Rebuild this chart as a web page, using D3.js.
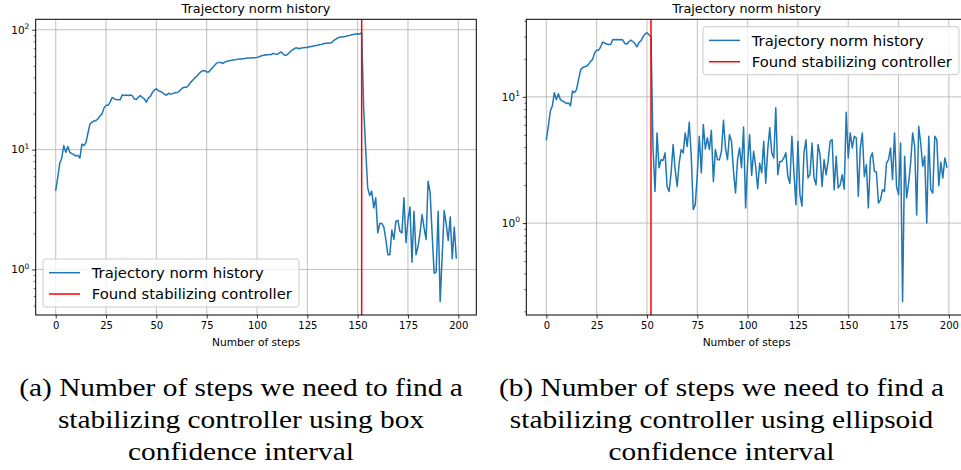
<!DOCTYPE html>
<html><head><meta charset="utf-8">
<script src="https://cdn.jsdelivr.net/npm/d3@7"></script>
<style>body{margin:0;background:#fff} svg{display:block}</style>
</head><body><svg id="chart" width="961" height="470"></svg>
<script>
// ---------------- data ----------------
const boxNorm = [
  4.58, 5.85, 7.7, 8.5, 10.8, 9.5, 10.6, 9.5, 9.25, 9.1,
  8.85, 8.95, 8.5, 11.1, 10.8, 11.4, 13.7, 16.3, 17.0, 17.3,
  17.5, 18.1, 19.1, 19.8, 22.3, 23.4, 23.4, 24.9, 27.2, 26.6,
  26.2, 26.0, 26.0, 28.5, 28.3, 28.5, 28.3, 28.5, 28.2, 26.5,
  26.2, 27.3, 28.2, 27.3, 26.5, 24.9, 26.9, 27.8, 29.9, 31.4,
  32.2, 31.0, 30.6, 29.9, 29.1, 28.4, 29.5, 29.1, 29.3, 29.7,
  29.9, 30.3, 31.6, 32.7, 33.1, 33.1, 34.4, 36.4, 37.8, 39.5,
  40.8, 42.7, 44.4, 45.5, 45.5, 44.4, 44.4, 46.4, 48.5, 50.5,
  52.7, 53.4, 53.4, 52.3, 53.7, 54.5, 55.2, 55.5, 55.9, 56.2,
  56.6, 56.9, 56.9, 57.3, 57.6, 58.0, 58.0, 58.0, 58.4, 58.4,
  58.8, 59.5, 60.3, 61.1, 61.9, 61.5, 62.3, 61.9, 63.5, 62.7,
  62.3, 63.9, 65.2, 62.7, 61.1, 61.9, 64.3, 66.8, 68.5, 70.3,
  70.3, 69.4, 70.3, 70.7, 71.2, 71.2, 72.1, 72.6, 73.1, 74.0,
  74.0, 75.0, 75.5, 76.5, 77.0, 77.0, 77.5, 78.0, 81.0, 83.0,
  85.3, 86.4, 87.0, 87.5, 88.0, 89.1, 89.7, 90.8, 91.4, 92.0,
  92.6, 92.0, 94.4, 22.0, 10.0, 4.8, 4.14, 4.5, 3.27, 3.96,
  2.02, 2.42, 2.42, 2.27, 1.78, 1.33, 1.33, 2.13, 1.78, 2.53,
  2.57, 2.08, 2.02, 3.96, 1.67, 2.6, 3.32, 1.15, 3.06, 1.33,
  1.56, 2.02, 2.87, 2.22, 1.78, 5.45, 4.4, 2.0, 0.93, 0.95,
  3.06, 0.54, 1.3, 3.1, 2.4, 1.75, 2.74, 1.23, 2.26, 1.25
];
const ellipsoidNorm = [
  4.58, 5.85, 7.7, 8.5, 10.8, 9.5, 10.6, 9.5, 9.25, 9.1,
  8.85, 8.95, 8.5, 11.1, 10.8, 11.4, 13.7, 16.3, 17.0, 17.3,
  17.5, 18.1, 19.1, 19.8, 22.3, 23.4, 23.4, 24.9, 27.2, 26.6,
  26.2, 26.0, 26.0, 28.5, 28.3, 28.5, 28.3, 28.5, 28.2, 26.5,
  26.2, 27.3, 28.2, 27.3, 26.5, 24.9, 26.9, 27.8, 29.9, 31.4,
  32.2, 31.0, 29.9, 4.0, 1.78, 5.18, 2.74, 3.18, 3.14, 3.6,
  1.95, 1.78, 2.5, 4.19, 2.65, 1.95, 2.99, 3.82, 3.6, 5.18,
  4.05, 6.29, 3.38, 1.28, 1.4, 2.42, 4.87, 2.5, 6.03, 3.86,
  4.73, 3.82, 5.44, 2.14, 3.82, 3.18, 3.18, 3.7, 6.53, 3.94,
  3.18, 5.02, 4.45, 2.57, 1.73, 3.18, 3.94, 2.74, 5.78, 1.32,
  2.99, 5.02, 2.38, 3.7, 2.82, 1.87, 2.99, 2.5, 4.45, 2.07,
  3.82, 5.68, 3.6, 3.28, 8.18, 2.42, 3.08, 3.08, 3.28, 3.6,
  2.34, 2.07, 4.87, 2.57, 1.4, 4.45, 1.68, 1.36, 3.6, 4.58,
  2.28, 2.42, 4.31, 2.28, 2.01, 4.19, 3.48, 1.95, 3.18, 2.42,
  3.08, 4.45, 4.58, 1.84, 3.38, 1.9, 2.01, 2.42, 1.86, 7.55,
  3.28, 5.18, 3.94, 4.87, 4.73, 1.63, 3.94, 5.18, 2.34, 2.9,
  1.32, 3.28, 3.6, 2.57, 2.54, 1.44, 1.53, 1.84, 1.78, 2.99,
  3.18, 3.94, 2.21, 5.18, 1.95, 1.68, 4.31, 0.239, 3.38, 1.58,
  2.07, 2.99, 5.18, 4.05, 1.16, 5.85, 4.31, 2.82, 3.38, 1.0,
  4.87, 1.84, 1.73, 4.87, 4.58, 1.98, 3.03, 2.28, 3.28, 2.78
];
const boxFoundStep = 152;
const ellipsoidFoundStep = 52;
const xTickValues = [0, 25, 50, 75, 100, 125, 150, 175, 200];
const chartTitle = "Trajectory norm history";
const xAxisLabel = "Number of steps";
const legendLabels = ["Trajectory norm history", "Found stabilizing controller"];
const captionA = ["(a) Number of steps we need to find a", "stabilizing controller using box", "confidence interval"];
const captionB = ["(b) Number of steps we need to find a", "stabilizing controller using ellipsoid", "confidence interval"];

// ---------------- drawing ----------------
const W = 961, H = 470;
const svg = d3.select("#chart");
svg.append("rect").attr("width", W).attr("height", H).attr("fill", "#fff");

const SANS = "'DejaVu Sans', sans-serif";
const SERIF = "'Liberation Serif', 'DejaVu Serif', serif";
const BLUE = "#1f77b4", RED = "#ff0000";
const axTop = 19.3, axBottom = 315;

const panels = [
  { values: boxNorm, found: boxFoundStep, x0: 35.7, x1: 476.3,
    legend: { x: 43, y: 259 }, caption: captionA, cx: 241 },
  { values: ellipsoidNorm, found: ellipsoidFoundStep, x0: 526.3, x1: 966.9,
    legend: { x: 703, y: 26.7 }, caption: captionB, cx: 721.5 }
];

panels.forEach((p, pi) => {
  const n = p.values.length;
  const xPad = (n - 1) * 0.05;
  const x = d3.scaleLinear().domain([-xPad, n - 1 + xPad]).range([p.x0, p.x1]);
  const lmin = Math.log10(d3.min(p.values)), lmax = Math.log10(d3.max(p.values));
  const lp = (lmax - lmin) * 0.05;
  const y = d3.scaleLog().domain([Math.pow(10, lmin - lp), Math.pow(10, lmax + lp)]).range([axBottom, axTop]);
  const [d0, d1] = y.domain();

  const majors = [], minors = [];
  for (let e = Math.floor(Math.log10(d0)); e <= Math.ceil(Math.log10(d1)); e++) {
    for (let k = 1; k <= 9; k++) {
      const v = k * Math.pow(10, e);
      if (v >= d0 && v <= d1) (k === 1 ? majors : minors).push(v);
    }
  }

  const g = svg.append("g");
  const clipId = "clip" + pi;
  g.append("clipPath").attr("id", clipId).append("rect")
    .attr("x", p.x0).attr("y", axTop).attr("width", p.x1 - p.x0).attr("height", axBottom - axTop);

  // grid
  const grid = g.append("g").attr("stroke", "#b0b0b0").attr("stroke-width", 0.8);
  xTickValues.forEach(t => grid.append("line")
    .attr("x1", x(t)).attr("x2", x(t)).attr("y1", axTop).attr("y2", axBottom));
  majors.forEach(t => grid.append("line")
    .attr("x1", p.x0).attr("x2", p.x1).attr("y1", y(t)).attr("y2", y(t)));

  // data line
  const line = d3.line().x((d, i) => x(i)).y(d => y(d));
  g.append("path").datum(p.values).attr("clip-path", `url(#${clipId})`)
    .attr("d", line).attr("fill", "none").attr("stroke", BLUE)
    .attr("stroke-width", 1.5).attr("stroke-linejoin", "round").attr("stroke-linecap", "square");

  // found controller line
  g.append("line").attr("x1", x(p.found)).attr("x2", x(p.found))
    .attr("y1", axTop).attr("y2", axBottom).attr("stroke", RED).attr("stroke-width", 1.5);

  // axes
  const xAxis = d3.axisBottom(x).tickValues(xTickValues).tickSize(3.5).tickPadding(3.5);
  const gx = g.append("g").attr("transform", `translate(0,${axBottom})`).call(xAxis);
  gx.select(".domain").remove();
  gx.selectAll("line").attr("stroke", "#000").attr("stroke-width", 0.8);
  gx.selectAll("text").attr("font-family", SANS).attr("font-size", 10).attr("fill", "#000");

  const gy = g.append("g").attr("transform", `translate(${p.x0},0)`)
    .call(d3.axisLeft(y).tickValues(majors).tickSize(3.5).tickFormat(""));
  gy.select(".domain").remove();
  gy.selectAll("line").attr("stroke", "#000").attr("stroke-width", 0.8);
  const gym = g.append("g").attr("transform", `translate(${p.x0},0)`)
    .call(d3.axisLeft(y).tickValues(minors).tickSize(2).tickFormat(""));
  gym.select(".domain").remove();
  gym.selectAll("line").attr("stroke", "#000").attr("stroke-width", 0.6);

  majors.forEach(v => {
    const t = g.append("text").attr("x", p.x0 - 6.3).attr("y", y(v) + 3.8)
      .attr("text-anchor", "end").attr("font-family", SANS).attr("font-size", 10.5).attr("fill", "#000");
    t.append("tspan").text("10");
    t.append("tspan").attr("font-size", 7.5).attr("dy", -4.5).text(String(Math.round(Math.log10(v))));
  });

  // spines
  g.append("rect").attr("x", p.x0).attr("y", axTop).attr("width", p.x1 - p.x0).attr("height", axBottom - axTop)
    .attr("fill", "none").attr("stroke", "#000").attr("stroke-width", 1);

  // title and x label
  const cxAx = (p.x0 + p.x1) / 2;
  g.append("text").attr("x", cxAx).attr("y", 13.3).attr("text-anchor", "middle")
    .attr("font-family", SANS).attr("font-size", 12.8).attr("fill", "#000").text(chartTitle);
  g.append("text").attr("x", cxAx).attr("y", 346).attr("text-anchor", "middle")
    .attr("font-family", SANS).attr("font-size", 10.6).attr("fill", "#000").text(xAxisLabel);

  // legend
  const L = p.legend;
  const lg = g.append("g").attr("transform", `translate(${L.x},${L.y})`);
  lg.append("rect").attr("width", 256).attr("height", 48).attr("rx", 3)
    .attr("fill", "#fff").attr("fill-opacity", 0.8).attr("stroke", "#cccccc").attr("stroke-width", 1);
  [BLUE, RED].forEach((c, i) => {
    const ry = i === 0 ? 13.7 : 35;
    lg.append("line").attr("x1", 6).attr("x2", 37).attr("y1", ry).attr("y2", ry)
      .attr("stroke", c).attr("stroke-width", 1.5);
    lg.append("text").attr("x", 48.7).attr("y", ry + 5.3).attr("font-family", SANS)
      .attr("font-size", 14.8).attr("fill", "#000").text(legendLabels[i]);
  });

  // caption (Palatino-like width: widen a Times-like face horizontally)
  const cap = svg.append("g").attr("transform", `translate(${p.cx},0) scale(1.175,1)`);
  p.caption.forEach((s, i) => {
    cap.append("text").attr("x", 0).attr("y", 396 + i * 32).attr("text-anchor", "middle")
      .attr("font-family", SERIF).attr("font-size", 25).attr("fill", "#000").text(s);
  });
});
</script>
</body></html>
